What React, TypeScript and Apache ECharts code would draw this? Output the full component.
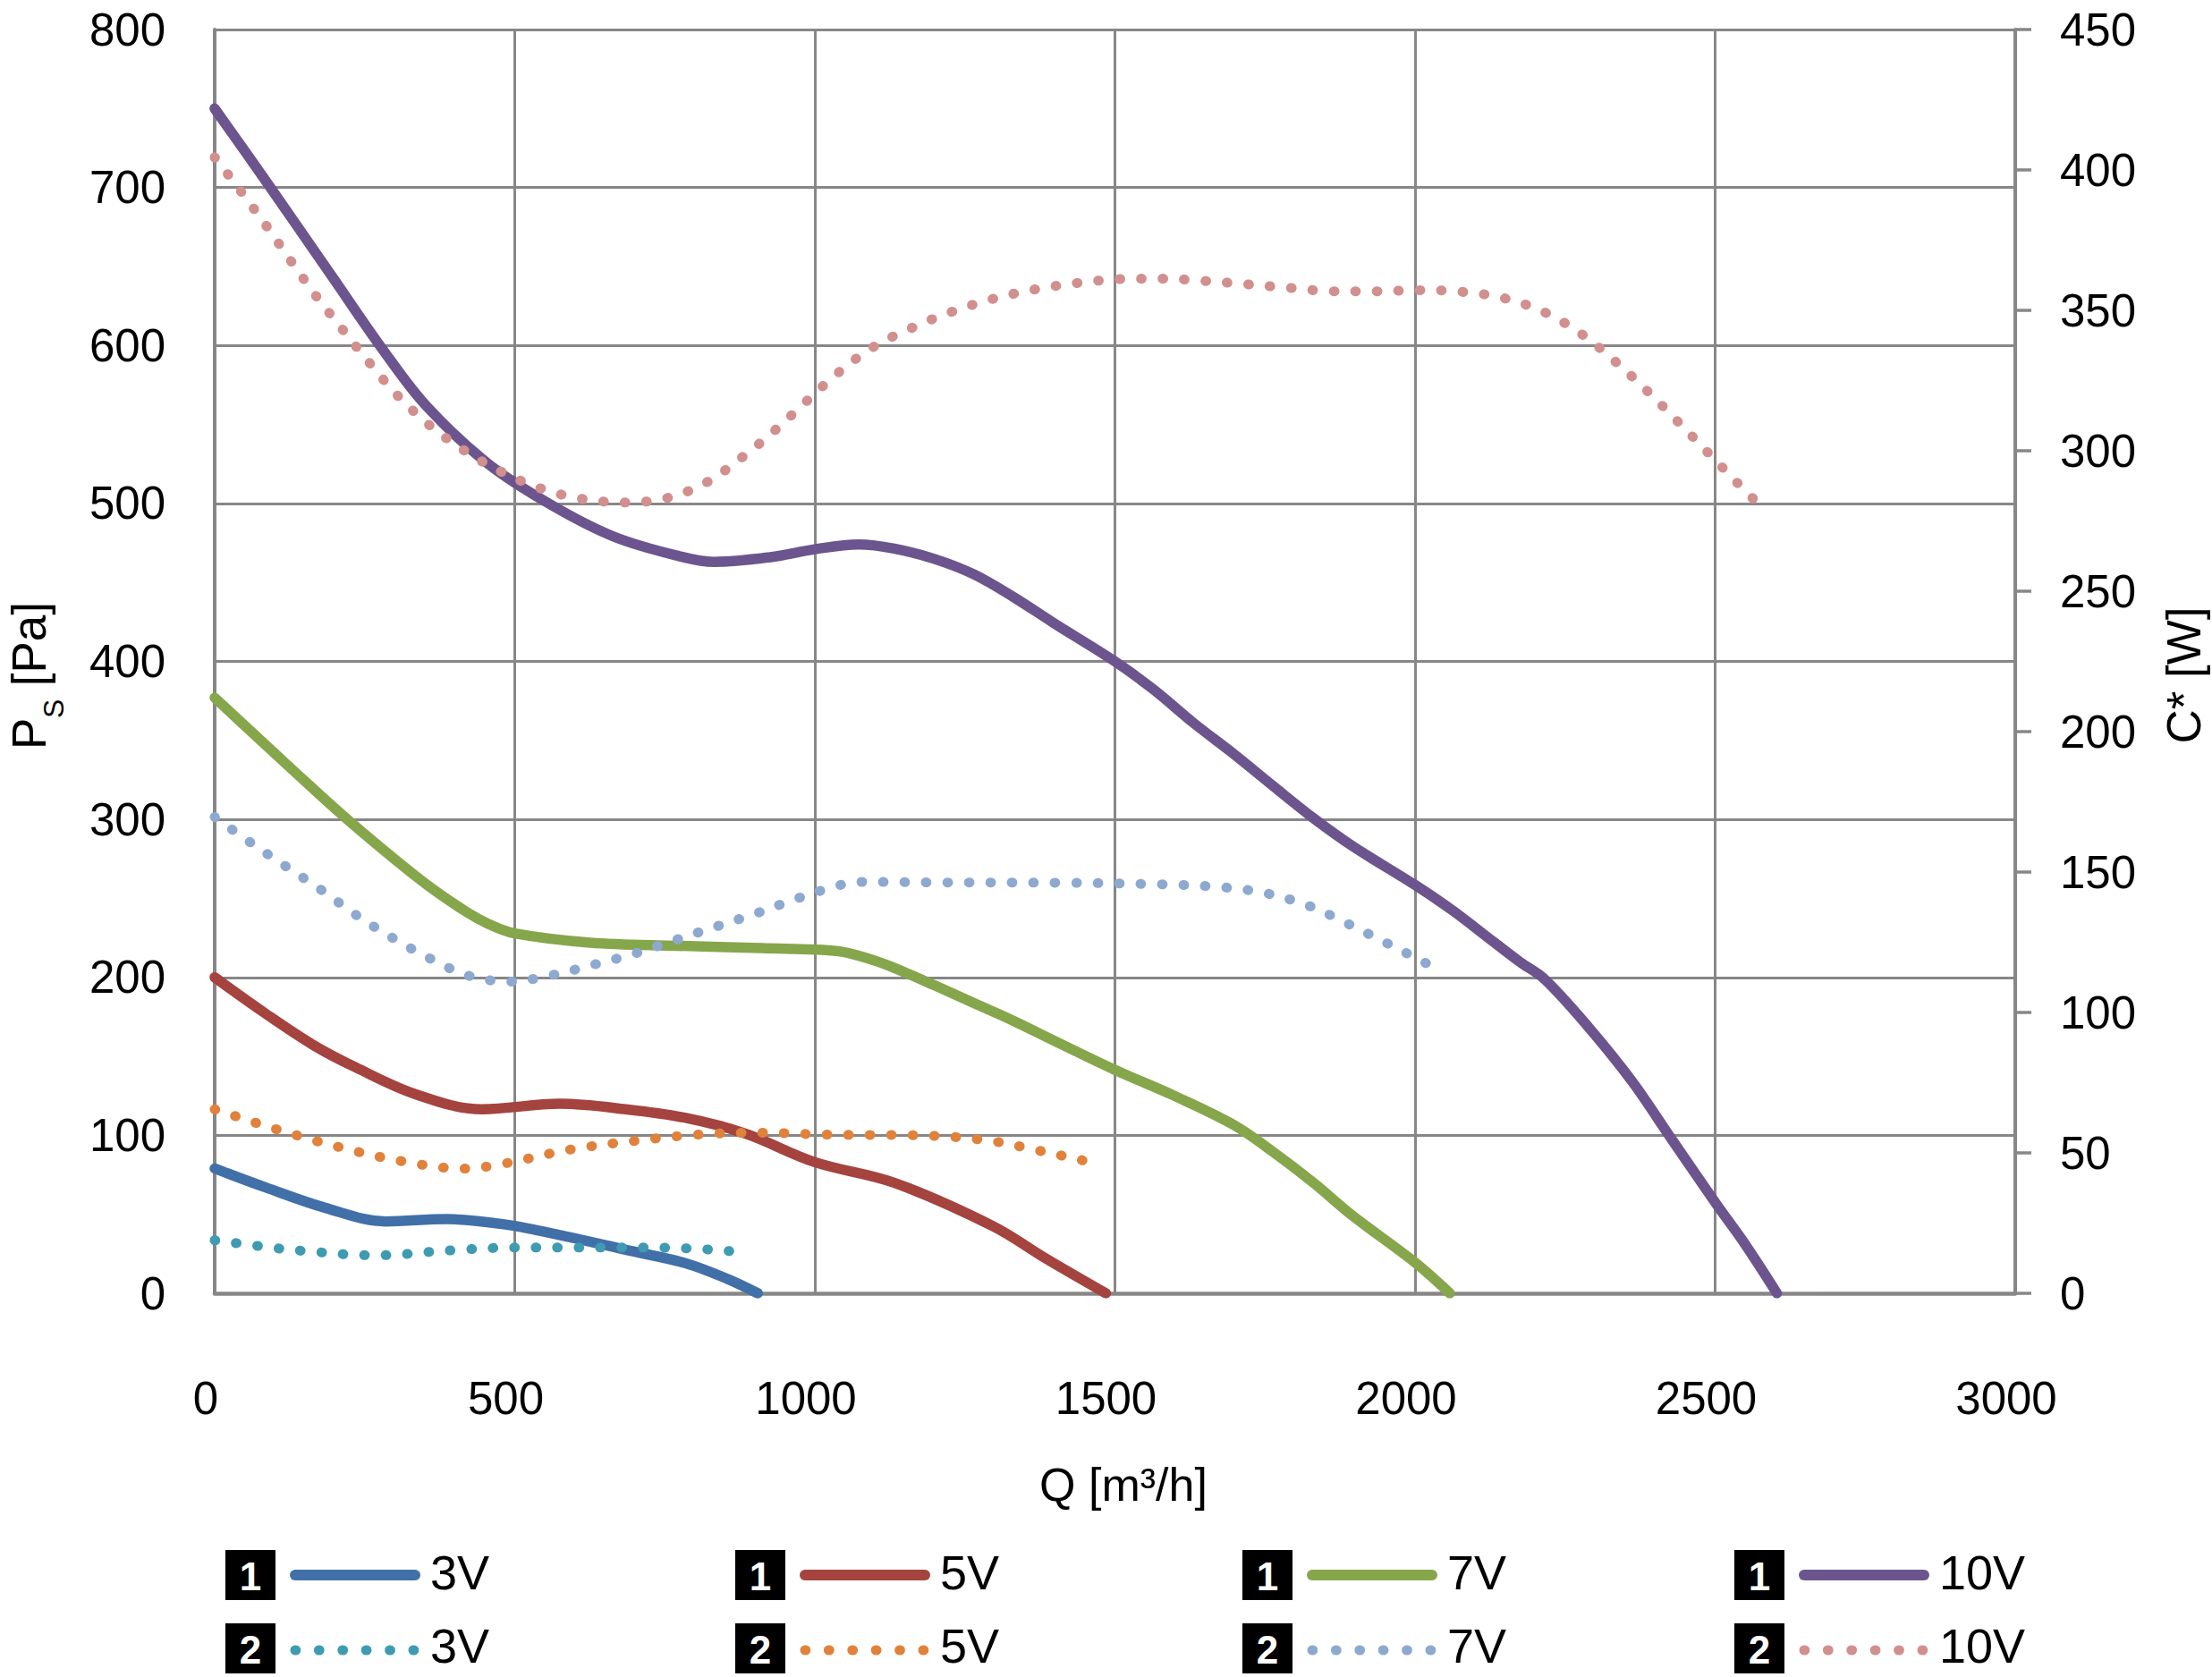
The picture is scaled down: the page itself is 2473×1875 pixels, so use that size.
import React, { useEffect, useRef } from "react";
import * as echarts from "echarts";

const FONT = "'Liberation Sans', Arial, Helvetica, sans-serif";

// X ticks / axis ranges
const xTicks = [0, 500, 1000, 1500, 2000, 2500, 3000];
const psTicks = [0, 100, 200, 300, 400, 500, 600, 700, 800];
const cTicks = [0, 50, 100, 150, 200, 250, 300, 350, 400, 450];

// Curve 1: static pressure Ps [Pa] vs Q [m3/h]
const q3V = [0, 85, 185, 285, 385, 485, 585, 685, 785, 855, 905];
const ps3V = [79, 67, 54, 45.5, 47, 43.5, 36, 27.5, 19, 9, 0];

const q5V = [0, 85, 165, 235, 335, 445, 575, 685, 785, 885, 1000, 1132, 1298, 1385, 1485];
const ps5V = [200, 177, 157, 143, 126, 116.5, 120, 116.5, 111, 101, 83, 70, 42.3, 22, 0];

const q7V = [0, 128, 221, 342, 413, 455, 498, 626, 769, 911, 1039, 1096, 1132, 1199, 1265, 1332, 1398, 1500, 1598, 1698, 1764, 1831, 1897, 2000, 2058];
const ps7V = [377, 332, 300, 262, 243, 234, 228, 222, 220, 218.5, 216.6, 211, 206, 195, 183.7, 172.3, 160, 141.4, 125.2, 106.6, 89.4, 69.9, 48.8, 19.5, 0];

const q10V = [0, 91, 195, 279, 352, 456, 561, 665, 770, 832, 926, 1000, 1073, 1132, 1199, 1265, 1332, 1398, 1500, 1565, 1631, 1698, 1764, 1831, 1897, 2000, 2063, 2130, 2175, 2216, 2289, 2362, 2425, 2501, 2550, 2603];
const ps10V = [750, 701, 644, 598, 562, 525, 499, 479, 467, 463, 466, 471, 474, 471.4, 464.9, 455.1, 440.5, 424.3, 400, 382, 361, 341.4, 321, 300.7, 282.8, 258.5, 242.2, 222.7, 209.7, 198.8, 168.5, 134, 99, 57, 31, 0];

// Curve 2: power C* [W] vs Q [m3/h]
const qc3V = [0, 105, 175, 250, 285, 355, 425, 500, 605, 715, 785, 855, 892];
const c3V = [18.9, 16, 14.6, 13.6, 13.6, 14.7, 15.7, 16.3, 16.3, 16.3, 16, 15.1, 14.2];

const qc5V = [0, 100, 205, 310, 415, 485, 590, 700, 805, 910, 1020, 1160, 1235, 1304, 1373, 1443, 1477];
const c5V = [65.5, 58.6, 52.2, 47.1, 44.4, 46.3, 51.1, 54.3, 56.5, 57.2, 56.5, 56.3, 55.6, 53.9, 50.8, 47.5, 45.7];

const qc7V = [0, 57, 118, 178, 235, 296, 359, 423, 491, 562, 633, 702, 769, 840, 904, 972, 1039, 1076, 1217, 1409, 1580, 1684, 1755, 1824, 1888, 1953, 2016, 2049];
const c7V = [169.6, 160.9, 152.1, 143.6, 134.8, 126.6, 119.2, 113.1, 111, 113.3, 117.1, 121.1, 125.9, 130.9, 135.4, 140.7, 145.2, 146.5, 146.3, 146.2, 145.6, 144.5, 142.3, 137.9, 131.6, 124.7, 117.8, 114.3];

const qc10V = [0, 44, 86, 127, 169, 213, 258, 305, 357, 415, 477, 543, 611, 683, 754, 820, 879, 934, 986, 1039, 1097, 1161, 1227, 1295, 1365, 1436, 1506, 1577, 1648, 1720, 1792, 1863, 1935, 2006, 2078, 2149, 2216, 2278, 2333, 2386, 2437, 2487, 2537, 2587];
const c10V = [404.5, 392.3, 380.1, 367.6, 355.1, 343.2, 331.3, 319.6, 309.3, 300.2, 292.6, 286.6, 282.9, 281.6, 283.2, 288.8, 297.7, 307.4, 317.6, 327.8, 336.9, 343.7, 349.4, 354, 357.4, 359.7, 361.1, 361.3, 360.5, 359.3, 358, 356.8, 356.8, 357.2, 356.6, 354.3, 349.3, 341.5, 331.9, 321.5, 310.6, 299.6, 288.6, 277.9];

const voltages = ["3V", "5V", "7V", "10V"];
const curveIds = ["1", "2"];
const solidColors = ["#4170A8", "#A5433F", "#86A64B", "#6C558E"];
const dottedColors = ["#3E9BB2", "#E0823B", "#8EA9D0", "#D18F8E"];

const zip = (xs: number[], ys: number[]) => xs.map((x, i) => [x, ys[i]]);

const solidData = [zip(q3V, ps3V), zip(q5V, ps5V), zip(q7V, ps7V), zip(q10V, ps10V)];
const dottedData = [zip(qc3V, c3V), zip(qc5V, c5V), zip(qc7V, c7V), zip(qc10V, c10V)];

const GRAY = "#878787";
const DOT_DASH = [0.8, 23.2];

export default function App() {
  const ref = useRef<HTMLDivElement>(null);

  useEffect(() => {
    document.body.style.margin = "0";
    if (!ref.current) return;
    const chart = echarts.init(ref.current, null, { renderer: "svg" });

    const series: any[] = [];
    voltages.forEach((v, i) => {
      series.push({
        name: curveIds[0] + " " + v,
        type: "line",
        xAxisIndex: 0,
        yAxisIndex: 0,
        data: solidData[i],
        symbol: "none",
        smooth: 0.35,
        color: solidColors[i],
        lineStyle: { width: 11.5, color: solidColors[i], cap: "round", join: "round" },
        z: 2,
      });
    });
    voltages.forEach((v, i) => {
      series.push({
        name: curveIds[1] + " " + v,
        type: "line",
        xAxisIndex: 0,
        yAxisIndex: 1,
        data: dottedData[i],
        symbol: "none",
        smooth: 0.35,
        color: dottedColors[i],
        lineStyle: { width: 11, color: dottedColors[i], type: DOT_DASH, cap: "round", join: "round" },
        z: 3,
      });
    });

    // Legend (drawn as graphic: number box, line sample, label)
    const boxLefts = [252, 822, 1389, 1939];
    const rowCenters = [1761, 1843];
    const graphics: any[] = [];
    [0, 1].forEach((row) => {
      voltages.forEach((v, col) => {
        const bx = boxLefts[col];
        const cy = rowCenters[row];
        graphics.push({
          type: "rect",
          shape: { x: bx, y: cy - 28, width: 56, height: 56 },
          style: { fill: "#000" },
        });
        graphics.push({
          type: "text",
          x: bx + 28,
          y: cy + 1,
          style: {
            text: curveIds[row],
            fill: "#fff",
            fontSize: 44,
            fontWeight: "bold",
            fontFamily: FONT,
            align: "center",
            verticalAlign: "middle",
          },
        });
        if (row === 0) {
          graphics.push({
            type: "line",
            shape: { x1: bx + 78, y1: cy, x2: bx + 212, y2: cy },
            style: { stroke: solidColors[col], lineWidth: 12, lineCap: "round" },
          });
        } else {
          graphics.push({
            type: "line",
            shape: { x1: bx + 78, y1: cy + 2, x2: bx + 211, y2: cy + 2 },
            style: { stroke: dottedColors[col], lineWidth: 11, lineCap: "round", lineDash: [0.8, 25.6] },
          });
        }
        graphics.push({
          type: "text",
          x: bx + 229,
          y: cy - 3,
          style: { text: v, fill: "#000", fontSize: 54, fontFamily: FONT, align: "left", verticalAlign: "middle" },
        });
      });
    });

    // Axis titles
    graphics.push({
      type: "text",
      x: 1256,
      y: 1660,
      style: { text: "Q [m³/h]", fontSize: 52, fontFamily: FONT, fill: "#000", align: "center", verticalAlign: "middle" },
    });
    graphics.push({
      type: "text",
      x: 2441,
      y: 755,
      rotation: Math.PI / 2,
      style: { text: "C* [W]", fontSize: 53, fontFamily: FONT, fill: "#000", align: "center", verticalAlign: "middle" },
    });
    graphics.push({
      type: "group",
      x: 51,
      y: 838,
      rotation: Math.PI / 2,
      children: [
        { type: "text", x: 0, y: -18.4, style: { text: "P", fontSize: 53, fontFamily: FONT, fill: "#000", align: "left", verticalAlign: "middle" } },
        { type: "text", x: 35, y: 9, style: { text: "S", fontSize: 32, fontFamily: FONT, fill: "#000", align: "left", verticalAlign: "middle" } },
        { type: "text", x: 56, y: -18.4, style: { text: " [Pa]", fontSize: 53, fontFamily: FONT, fill: "#000", align: "left", verticalAlign: "middle" } },
      ],
    });

    chart.setOption({
      animation: false,
      backgroundColor: "#fff",
      textStyle: { fontFamily: FONT },
      grid: { left: 240, right: 220, top: 33, bottom: 429, containLabel: false },
      xAxis: {
        type: "value",
        min: xTicks[0],
        max: xTicks[xTicks.length - 1],
        interval: 500,
        axisLine: { show: true, lineStyle: { color: GRAY, width: 4.5 } },
        axisTick: { show: false },
        splitLine: { show: true, lineStyle: { color: GRAY, width: 3 } },
        axisLabel: {
          margin: 92,
          fontSize: 51,
          color: "#000",
          fontFamily: FONT,
          padding: [0, 20, 0, 0],
          formatter: (v: number) => String(v),
        },
      },
      yAxis: [
        {
          type: "value",
          min: psTicks[0],
          max: psTicks[psTicks.length - 1],
          interval: 100,
          axisLine: { show: true, lineStyle: { color: GRAY, width: 4 } },
          axisTick: { show: false },
          splitLine: { show: true, lineStyle: { color: GRAY, width: 3 } },
          axisLabel: { margin: 55, fontSize: 51, color: "#000", fontFamily: FONT, padding: [0, 0, 16, 0] },
        },
        {
          type: "value",
          position: "right",
          min: cTicks[0],
          max: cTicks[cTicks.length - 1],
          interval: 50,
          axisLine: { show: true, lineStyle: { color: GRAY, width: 4 } },
          axisTick: { show: true, inside: false, length: 18, lineStyle: { color: GRAY, width: 3.5 } },
          splitLine: { show: false },
          axisLabel: { margin: 50, fontSize: 51, color: "#000", fontFamily: FONT, padding: [0, 0, 9, 0] },
        },
      ],
      graphic: graphics,
      series,
    });

    return () => chart.dispose();
  }, []);

  return <div ref={ref} style={{ width: 2473, height: 1875 }} />;
}
